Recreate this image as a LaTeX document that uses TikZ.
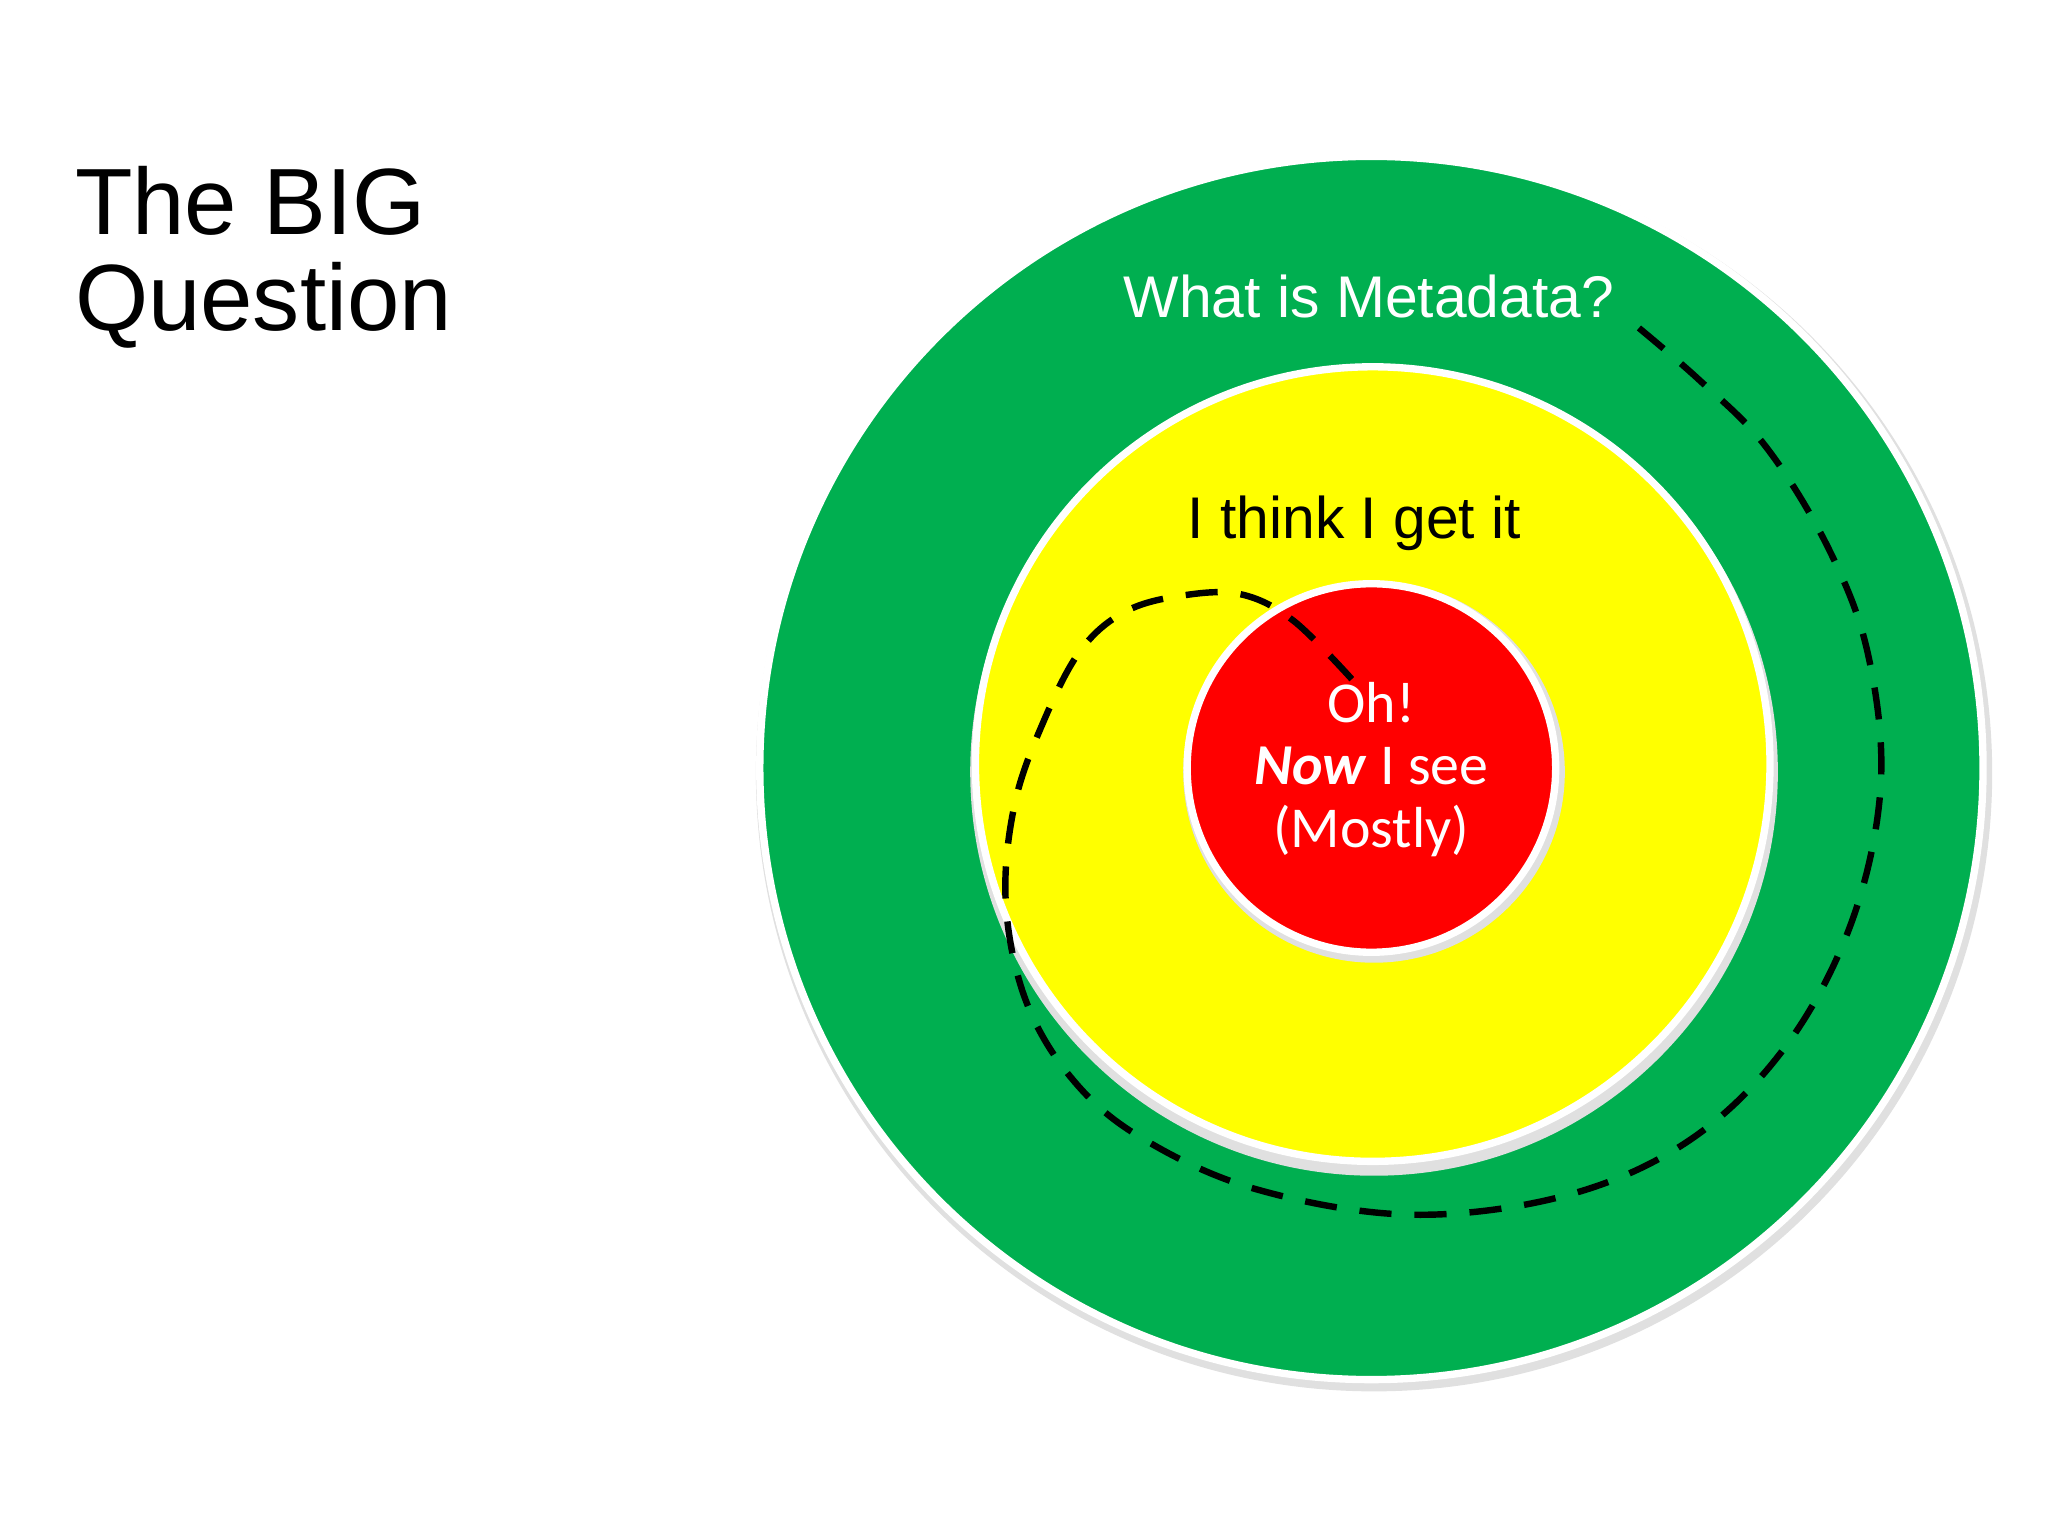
\documentclass[tikz,border=0pt]{standalone}
\usepackage{fontspec}
\setmainfont{Liberation Sans}
\newfontfamily\calib{Carlito}
\definecolor{grn}{HTML}{00AF50}
\definecolor{yel}{HTML}{FFFF00}
\definecolor{rd}{HTML}{FF0000}
\begin{document}
\begin{tikzpicture}[x=0.01cm,y=-0.01cm,
  ring/.style={circle,draw=white,line width=1.6pt,inner sep=0pt},
  shade/.style={circle,fill=black!12,inner sep=0pt}]
\useasboundingbox (0,0) rectangle (1568,1176);
\fill[white] (0,0) rectangle (1568,1176);
\node[shade,minimum size=9.46cm] at (1052,592) {};
\node[ring,fill=grn,minimum size=9.36cm] (g) at (1050,588) {};
\node[shade,minimum size=6.18cm] at (1052,591) {};
\node[ring,fill=yel,minimum size=6.08cm] (y) at (1051,585) {};
\node[shade,minimum size=2.92cm] at (1052,591) {};
\node[ring,fill=rd,minimum size=2.82cm] (r) at (1050,588) {};
\node[anchor=west,align=left,font=\fontsize{20.5}{21}\selectfont] (t) at (45,197) {The BIG\\[0.1pt]Question};
\node[text=white,font=\fontsize{12.8}{14}\selectfont] (w) at (1048,227) {What is Metadata?};
\node[font=\fontsize{12.8}{14}\selectfont] (i) at (1037,401) {I think I get it};
\node[text=white,align=center,font=\calib\fontsize{12.6}{13.6}\selectfont] (o) at (1050,589) {Oh!\\\textbf{\textit{Now}} I see\\(Mostly)};
\draw[dashed,line width=1.4pt,dash pattern=on 7pt off 5pt] plot[smooth,tension=0.6] coordinates{
(1035,520) (990,475) (950,455) (905,456) (862,468) (828,497) (800,550) (777,615) (770,690) (785,765) (820,825) (872,870) (960,910) (1080,930) (1200,915) (1295,872) (1368,800) (1418,705) (1440,600) (1430,500) (1400,420) (1352,342) (1300,290) (1245,243)};
\end{tikzpicture}
\end{document}
